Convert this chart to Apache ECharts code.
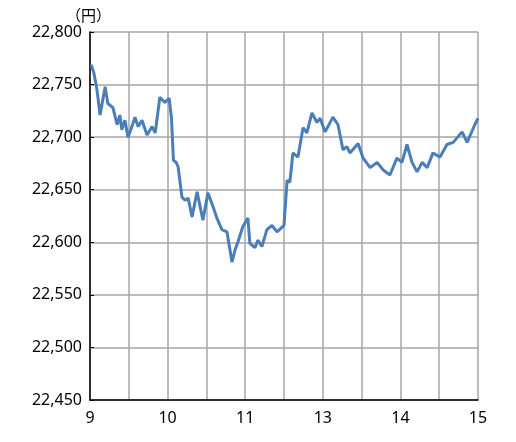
<!DOCTYPE html>
<html>
<head>
<meta charset="utf-8">
<script src="https://cdn.jsdelivr.net/npm/echarts@6/dist/echarts.min.js"></script>
<style>html,body{margin:0;padding:0;background:#fff}#main{width:516px;height:442px}</style>
</head>
<body>
<div id="main"></div>
<script>
// x is measured in 30-minute slots from 9:00 (lunch break removed: slot 5 = 11:30/12:30)
var slotLabels = ['9', '', '10', '', '11', '', '13', '', '14', '', '15'];
var xs = [0.03, 0.10, 0.18, 0.26, 0.39, 0.46, 0.59, 0.70, 0.77, 0.82, 0.90, 0.98, 1.08, 1.16, 1.24, 1.34, 1.47, 1.60, 1.68, 1.80, 1.93, 2.04, 2.10,
    2.15, 2.22, 2.27, 2.37, 2.45, 2.53, 2.63, 2.76, 2.91, 3.04, 3.17, 3.27, 3.40, 3.53, 3.66, 3.74, 3.81, 3.94, 4.07, 4.12, 4.25, 4.33, 4.43, 4.56, 4.69, 4.82, 5.00,
    5.08, 5.15, 5.23, 5.36, 5.49, 5.59, 5.72, 5.85, 5.93, 6.06, 6.26, 6.39, 6.52, 6.62, 6.70, 6.91, 7.04, 7.22, 7.40, 7.55, 7.73, 7.91, 8.04, 8.17,
    8.30, 8.43, 8.56, 8.69, 8.84, 9.02, 9.20, 9.36, 9.59, 9.72, 9.92, 10.0];
var prices = [22769, 22761, 22745, 22721, 22748, 22732, 22728, 22712, 22721, 22707, 22716, 22700, 22710, 22719, 22710, 22716, 22702, 22710, 22704, 22738, 22733, 22737, 22718,
    22678, 22676, 22672, 22643, 22640, 22642, 22624, 22648, 22621, 22647, 22634, 22623, 22612, 22610, 22581, 22593, 22600, 22615, 22623, 22599, 22595, 22602, 22596, 22612, 22616, 22610, 22616,
    22659, 22657, 22685, 22681, 22709, 22704, 22723, 22714, 22718, 22705, 22719, 22712, 22688, 22691, 22685, 22694, 22680, 22671, 22676, 22669, 22664, 22680, 22676, 22693,
    22676, 22667, 22676, 22671, 22685, 22681, 22693, 22695, 22705, 22695, 22712, 22718];
var yMin = 22450, yMax = 22800, yStep = 50;

var series = xs.map(function (x, i) { return [x, prices[i]]; });
var myChart = echarts.init(document.getElementById('main'));
var option = {
    animation: false,
    grid: { left: 90, right: 38, top: 32, bottom: 42 },
    graphic: [{ type: 'text', left: 66, top: 8, style: { text: '（円）', fontSize: 15, fill: '#000', fontFamily: 'Noto Sans CJK JP' } }],
    xAxis: {
        type: 'value', min: 0, max: 10, interval: 1,
        axisLine: { show: true, onZero: false, lineStyle: { color: '#000', width: 1.5 } },
        axisTick: { show: false },
        axisLabel: { color: '#000', fontSize: 16, margin: 10, fontFamily: 'Noto Sans', formatter: function (v) { return slotLabels[Math.round(v)]; } },
        splitLine: { show: true, lineStyle: { color: '#a6a6a6', width: 1.5 } }
    },
    yAxis: {
        type: 'value', min: yMin, max: yMax, interval: yStep,
        axisLine: { show: true, lineStyle: { color: '#000', width: 1.5 } },
        axisTick: { show: true, inside: true, length: 4, lineStyle: { color: '#000' } },
        axisLabel: { color: '#000', fontSize: 16, margin: 8, fontFamily: 'Noto Sans', formatter: function (v) { return v.toLocaleString('en-US'); } },
        splitLine: { show: true, lineStyle: { color: '#a6a6a6', width: 1.5 } }
    },
    series: [{ type: 'line', data: series, showSymbol: false, lineStyle: { color: '#4a7ebb', width: 3 } }]
};
myChart.setOption(option);
</script>
</body>
</html>
